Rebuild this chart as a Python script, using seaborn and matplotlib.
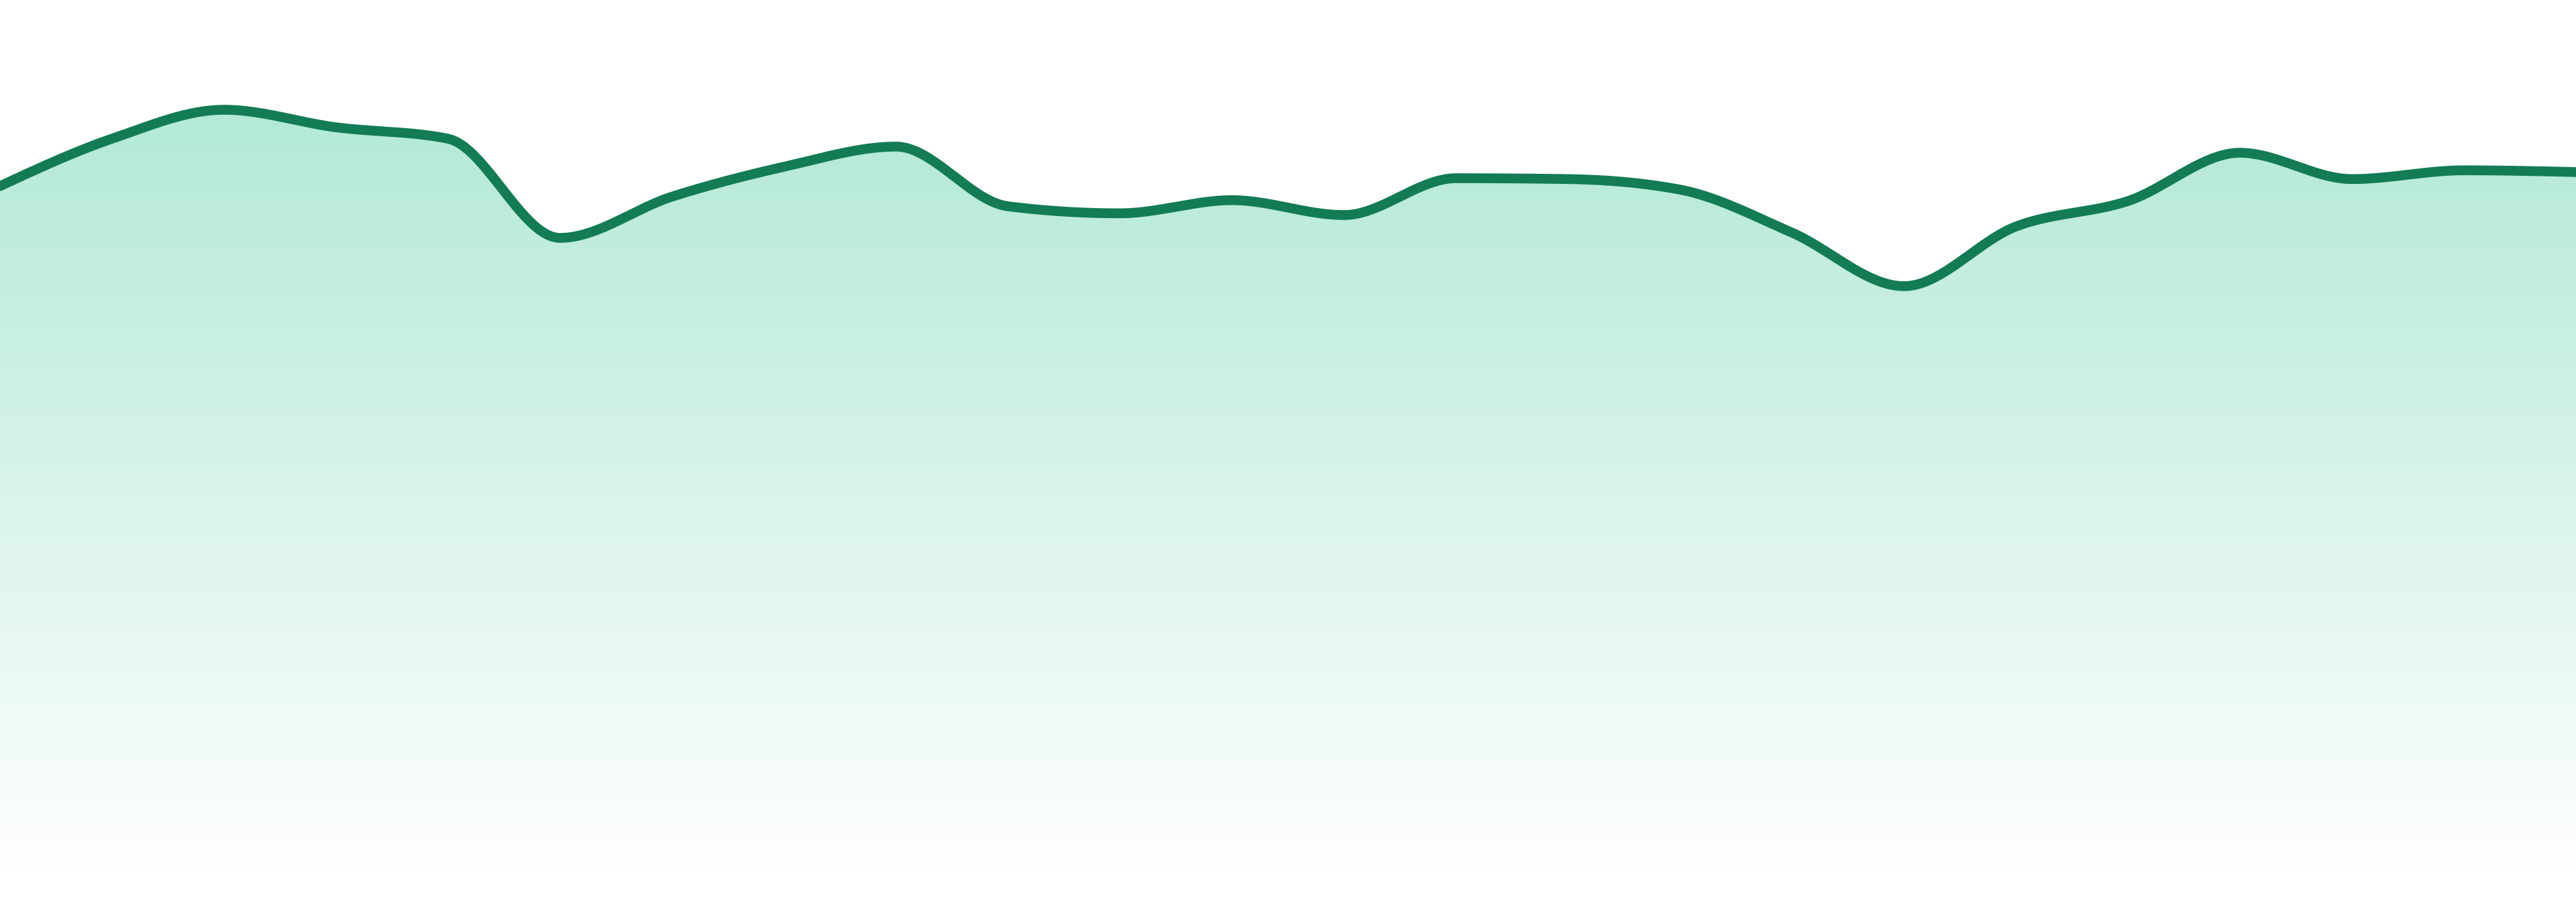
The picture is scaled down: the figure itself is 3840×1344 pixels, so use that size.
import numpy as np
import pandas as pd
import matplotlib.pyplot as plt
import seaborn as sns
from matplotlib.colors import to_rgb

sns.set_theme(style="white")

# ---- data ----
periodo = list(range(24))
valores = [78.8, 84.2, 87.5, 85.5, 84.2, 72.9, 77.6, 81.0, 83.3, 76.5, 75.7, 77.2,
           75.5, 79.7, 79.6, 78.4, 73.5, 67.4, 74.2, 77.1, 82.6, 79.6, 80.6, 80.4]

cor_linha = "#137c54"
cor_area = "#10b981"


# curva monotona (estilo d3 curveMonotoneX), so para desenhar a linha suave
def curva_monotona(x, y, n=40):
    x = np.asarray(x, float)
    y = np.asarray(y, float)
    h = np.diff(x)
    s = np.diff(y) / h
    t = np.zeros_like(y)
    for i in range(1, len(y) - 1):
        p = (s[i - 1] * h[i] + s[i] * h[i - 1]) / (h[i - 1] + h[i])
        t[i] = (np.sign(s[i - 1]) + np.sign(s[i])) * min(abs(s[i - 1]), abs(s[i]), 0.5 * abs(p))
    t[0] = (3 * s[0] - t[1]) / 2
    t[-1] = (3 * s[-1] - t[-2]) / 2
    xs, ys = [], []
    u = np.linspace(0, 1, n, endpoint=False)
    for i in range(len(x) - 1):
        dx = h[i] / 3
        px = [x[i], x[i] + dx, x[i + 1] - dx, x[i + 1]]
        py = [y[i], y[i] + dx * t[i], y[i + 1] - dx * t[i + 1], y[i + 1]]
        b = [(1 - u) ** 3, 3 * u * (1 - u) ** 2, 3 * u ** 2 * (1 - u), u ** 3]
        xs.append(sum(bi * pi for bi, pi in zip(b, px)))
        ys.append(sum(bi * pi for bi, pi in zip(b, py)))
    xs.append([x[-1]])
    ys.append([y[-1]])
    return np.concatenate(xs), np.concatenate(ys)


xs, ys = curva_monotona(periodo, valores)
df = pd.DataFrame({"periodo": xs, "valor": ys})

fig = plt.figure(figsize=(38.4, 13.44), dpi=100)
ax = fig.add_axes([0, 36 / 1344, 1, 1 - 36 / 1344])
ax.set_xlim(0, 23)
ax.set_ylim(0, 100)

# area com gradiente (mais forte no topo, some em baixo)
area = ax.fill_between(df["periodo"], df["valor"], 0, color="none", lw=0)
topo = max(valores)
grad = np.zeros((256, 1, 4))
grad[:, 0, :3] = to_rgb(cor_area)
grad[:, 0, 3] = np.linspace(0.0, 0.32, 256)
img = ax.imshow(grad, extent=[0, 23, 0, topo], origin="lower", aspect="auto", zorder=1)
img.set_clip_path(area.get_paths()[0], transform=ax.transData)

sns.lineplot(data=df, x="periodo", y="valor", sort=False, color=cor_linha,
             linewidth=10.5, ax=ax, zorder=3)
ax.lines[0].set_solid_capstyle("round")
ax.lines[0].set_solid_joinstyle("round")

ax.set_axis_off()
fig.savefig("out.png", dpi=100, facecolor="white")
